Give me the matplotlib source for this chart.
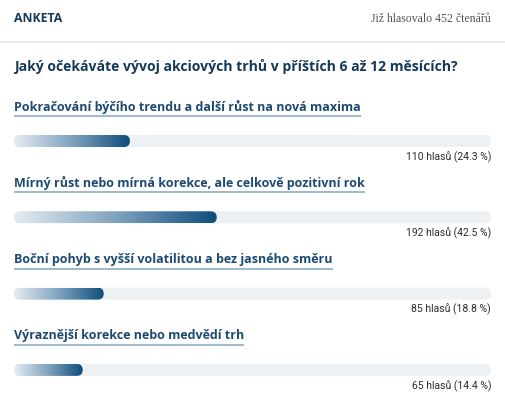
import numpy as np
import matplotlib
matplotlib.use('Agg')
import matplotlib.pyplot as plt
from matplotlib.patches import FancyBboxPatch
from matplotlib.colors import LinearSegmentedColormap

# poll data
TITLE    = "ANKETA"
VOTED    = "Již hlasovalo 452 čtenářů"
QUESTION = "Jaký očekáváte vývoj akciových trhů v příštích 6 až 12 měsících?"
OPTIONS  = [
    "Pokračování býčího trendu a další růst na nová maxima",
    "Mírný růst nebo mírná korekce, ale celkově pozitivní rok",
    "Boční pohyb s vyšší volatilitou a bez jasného směru",
    "Výraznější korekce nebo medvědí trh",
]
VOTES    = [110, 192, 85, 65]
PERCENTS = [24.3, 42.5, 18.8, 14.4]

W, H = 505, 400
NAVY = '#15395a'
LABEL_C = '#1d4a72'
TRACK_C = '#edf1f4'
grad = LinearSegmentedColormap.from_list('g', ['#e6ecf1', '#7fa3bf', '#0f4d7c'])

fig = plt.figure(figsize=(W / 100, H / 100), dpi=100)
ax = fig.add_axes([0, 0, 1, 1])
ax.set_xlim(0, W)
ax.set_ylim(H, 0)
ax.axis('off')

ax.text(14, 19, TITLE, fontsize=8.8, fontweight='bold', color=NAVY,
        family='Open Sans', va='center', ha='left')
ax.text(491, 19, VOTED, fontsize=8.5, color='#555555', family='Liberation Serif',
        va='center', ha='right')
ax.plot([0, W], [41.5, 41.5], color='#ececec', lw=1.5)
ax.text(14, 67, QUESTION, fontsize=10.1, fontweight='bold', color=NAVY,
        family='Open Sans', va='center', ha='left')

x0, x1 = 14, 491
bar_h = 12
fig.canvas.draw()
r = fig.canvas.get_renderer()
for i, (lab, v, p) in enumerate(zip(OPTIONS, VOTES, PERCENTS)):
    yl = 107 + i * 76.3
    yb = 141 + i * 76.3
    t = ax.text(x0, yl, lab, fontsize=9.0, fontweight='bold', color=LABEL_C,
                family='Open Sans', va='center', ha='left')
    bb = t.get_window_extent(r)
    ax.plot([x0, x0 + bb.width], [yl + 9, yl + 9], color='#94b3ca', lw=1.3,
            solid_capstyle='butt')
    track = FancyBboxPatch((x0, yb - bar_h / 2), x1 - x0, bar_h,
                           boxstyle='round,pad=0,rounding_size=6',
                           fc=TRACK_C, ec='none')
    ax.add_patch(track)
    xe = x0 + (x1 - x0) * p / 100
    clip = FancyBboxPatch((x0, yb - bar_h / 2), xe - x0, bar_h,
                          boxstyle='round,pad=0,rounding_size=6',
                          fc='none', ec='none')
    ax.add_patch(clip)
    im = ax.imshow(np.linspace(0, 1, 256)[None, :], cmap=grad, aspect='auto',
                   extent=[x0, xe, yb + bar_h / 2, yb - bar_h / 2], zorder=3)
    im.set_clip_path(clip)
    ax.text(x1, yb + 16, f"{v} hlasů ({p} %)", fontsize=7.5, color='#2b2b2b',
            family='Roboto', va='center', ha='right')

ax.set_xlim(0, W)
ax.set_ylim(H, 0)
fig.savefig('out.png', dpi=100)
